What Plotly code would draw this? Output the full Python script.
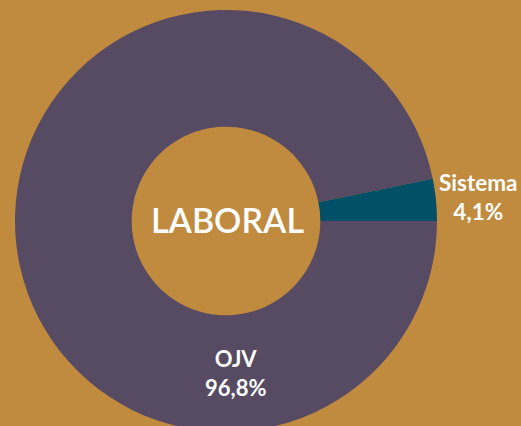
import plotly.graph_objects as go

categories = ["OJV", "Sistema"]
slice_values = [96.8, 3.2]
label_texts = ["96,8%", "4,1%"]
center_title = "LABORAL"

BG = "#C08A3F"
colors = ["#574A63", "#024F68"]

W, H = 521, 432

fig = go.Figure()
fig.add_trace(go.Pie(
    labels=categories,
    values=slice_values,
    sort=False,
    direction="counterclockwise",
    rotation=90,
    hole=0.447,
    marker=dict(colors=colors, line=dict(width=0)),
    textinfo="none",
    hoverinfo="label+percent",
    showlegend=False,
    domain=dict(x=[0, 452 / W], y=[0, 1 - 10 / H]),
))

font_family = "Lato"
fig.add_annotation(
    x=227 / W, y=1 - 219.5 / H, xref="paper", yref="paper",
    text=center_title, showarrow=False,
    font=dict(family=font_family, size=34, color="white", weight=600),
    xanchor="center", yanchor="middle",
)
fig.add_annotation(
    x=478 / W, y=1 - 197 / H, xref="paper", yref="paper",
    text=f"{categories[1]}<br>{label_texts[1]}", showarrow=False,
    font=dict(family=font_family, size=22.5, color="white", weight=700),
    xanchor="center", yanchor="middle", align="center",
)
fig.add_annotation(
    x=235 / W, y=1 - 373 / H, xref="paper", yref="paper",
    text=f"{categories[0]}<br>{label_texts[0]}", showarrow=False,
    font=dict(family=font_family, size=22, color="white", weight=700),
    xanchor="center", yanchor="middle", align="center",
)

fig.update_layout(
    width=W, height=H,
    margin=dict(l=0, r=0, t=0, b=0),
    paper_bgcolor=BG, plot_bgcolor=BG,
)

post = (
    "document.body.style.margin='0';"
    "document.body.style.overflow='hidden';"
    "document.documentElement.style.overflow='hidden';"
    "document.body.style.background='%s';" % BG
)
fig.write_html("out.html", post_script=post, config={"displayModeBar": False})
